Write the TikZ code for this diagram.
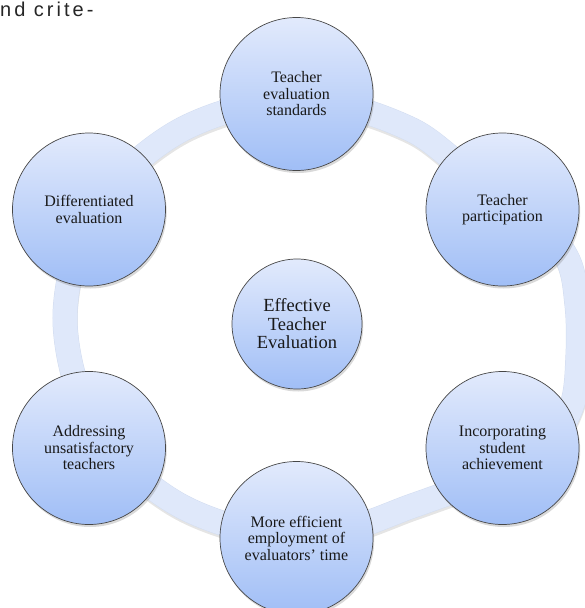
\documentclass[tikz,border=0pt]{standalone}
\usepackage{fontspec}
\setmainfont{Liberation Serif}
\newfontfamily\hdrfont[LetterSpace=15]{Liberation Sans}
\usetikzlibrary{shadows}
\definecolor{ringc}{HTML}{DFE8FA}
\definecolor{ringe}{HTML}{D3DDF0}
\definecolor{ntop}{HTML}{E2EAFC}
\definecolor{nbot}{HTML}{A0BEF6}
\definecolor{nedge}{HTML}{474747}
\tikzset{
  cyc/.style={circle, minimum size=153pt, inner sep=0pt, draw=nedge, line width=0.7pt,
    top color=ntop, bottom color=nbot, align=center,
    font=\fontsize{16}{16.5}\selectfont, text=black!90,
    drop shadow={opacity=0.3, shadow xshift=1.2pt, shadow yshift=-2.5pt}},
  hub/.style={cyc, minimum size=130pt, font=\fontsize{18.5}{18.5}\selectfont},
  ringband/.style={line width=24pt, color=ringc},
}
\begin{document}
\begin{tikzpicture}[x=1pt,y=-1pt]
\path[use as bounding box] (0,0) rectangle (585,608);
\clip (0,0) rectangle (585,608);
\def\ringpts{(412.3,505.9) (336.7,531.7) (256.3,531.7) (180.8,505.9) (119.2,457.5)
  (79.0,392.2) (65,318) (79.0,243.8) (119.2,178.5) (180.8,130.1) (256.3,104.3)
  (336.7,104.3) (412.3,130.1) (462,166) (528,210) (567,258) (577,305) (578,355)
  (572,405) (545,450) (500,478) (455,491)}
\draw[black, opacity=0.10, line width=24pt, yshift=-3pt, xshift=0.5pt]
  plot[smooth cycle, tension=0.55] coordinates {\ringpts};
\draw[ringe, line width=25pt] plot[smooth cycle, tension=0.55] coordinates {\ringpts};
\draw[ringband] plot[smooth cycle, tension=0.55] coordinates {\ringpts};
\node[cyc] (std) at (296.5,94) {Teacher\\evaluation\\standards};
\node[cyc] (part) at (502.5,209.5) {Teacher\\participation};
\node[cyc] (ach) at (502.5,448) {Incorporating\\student\\achievement};
\node[cyc] (time) at (296.5,538) {More efficient\\employment of\\evaluators' time};
\node[cyc] (unsat) at (89,448) {Addressing\\unsatisfactory\\teachers};
\node[cyc] (diff) at (89,209.5) {Differentiated\\evaluation};
\node[hub] (hub) at (297,324) {Effective\\Teacher\\Evaluation};
\node[anchor=base west, inner sep=0pt, text=black!85, font=\hdrfont\fontsize{20}{20}\selectfont] (hdr) at (0,16.5) {nd crite-};
\end{tikzpicture}
\end{document}
